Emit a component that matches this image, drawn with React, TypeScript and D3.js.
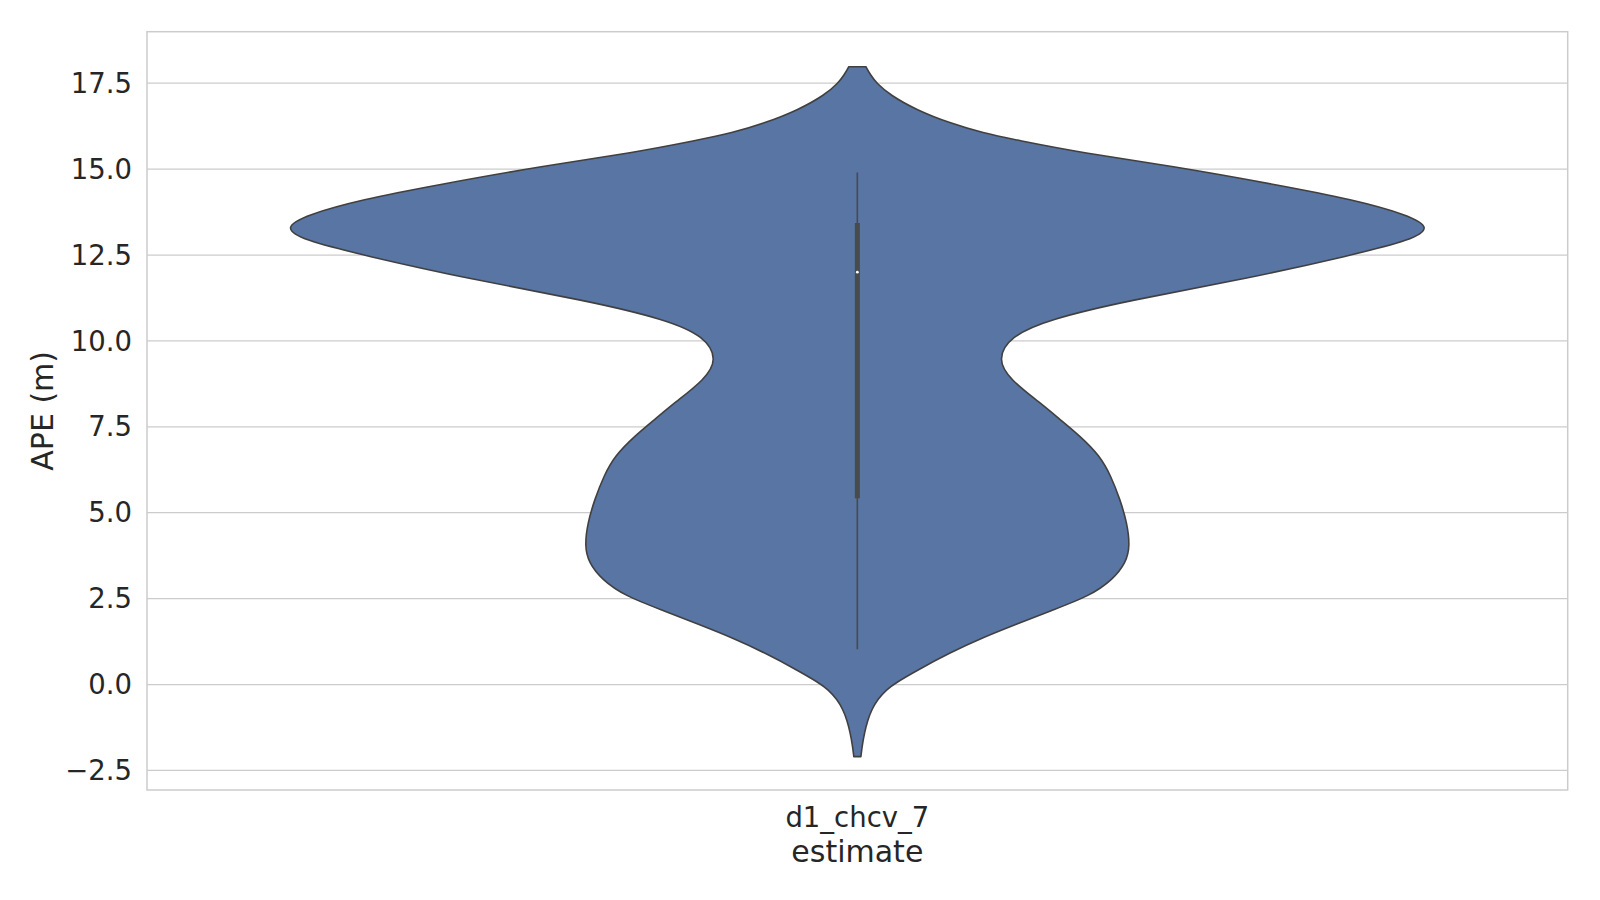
import React from "react";
import * as d3 from "d3";

// ---- data ----
const categories = ["d1_chcv_7"];
const yTicks = [-2.5, 0, 2.5, 5, 7.5, 10, 12.5, 15, 17.5];
// violin outline: value levels (top to bottom) and relative density (max = 1)
const violinY = [
  17.98, 17.75, 17.5, 17.16, 16.72, 16.34, 16.05, 15.85, 15.47, 15.1, 14.54, 14.11, 13.67,
  13.3, 12.94, 12.51, 11.78, 11.18, 10.62, 10.13, 9.46, 8.87, 8.2, 7.71, 7.23, 6.65, 6.06,
  5.39, 4.71, 4.03, 3.55, 3.06, 2.58, 2.14, 1.75, 1.37, 0.93, 0.4, 0.06, -0.15, -0.43,
  -0.72, -1.05, -1.4, -1.75, -2.1,
];
const violinDensity = [
  0.0151, 0.0228, 0.0339, 0.0573, 0.1042, 0.1627, 0.2214, 0.2794, 0.3972, 0.5501, 0.7399,
  0.8735, 0.9684, 1.01, 0.9754, 0.8735, 0.6766, 0.478, 0.3357, 0.2689, 0.246, 0.2689,
  0.3216, 0.3568, 0.3919, 0.4271, 0.4464, 0.4622, 0.4745, 0.4798, 0.4728, 0.4499, 0.4095,
  0.3392, 0.2794, 0.2214, 0.1634, 0.1037, 0.0685, 0.051, 0.036, 0.0255, 0.0179, 0.0127,
  0.0088, 0.0062,
];
// inner box: whisker low, q1, median, q3, whisker high
const boxStats = [1.03, 5.42, 12.0, 13.43, 14.9];

const W = 1600;
const H = 900;
const M = { left: 147, top: 31.7, right: 1567.7, bottom: 790 };
const FONT = "DejaVu Sans, sans-serif";
const TEXT = "#262626";

export default function App() {
  const y = d3.scaleLinear().domain([-3.07, 19.0]).range([M.bottom, M.top]);
  const x = d3.scaleBand<string>().domain(categories).range([M.left, M.right]).padding(0);
  const cx = (x(categories[0]) ?? 0) + x.bandwidth() / 2;
  const halfW = x.bandwidth() * 0.4;
  const w = d3.scaleLinear().domain([0, 1]).range([0, halfW]);

  const pts = violinY.map((v, i) => ({ v, d: violinDensity[i] }));
  const area = d3
    .area<{ v: number; d: number }>()
    .y((p) => y(p.v))
    .x0((p) => cx - w(p.d))
    .x1((p) => cx + w(p.d))
    .curve(d3.curveBasis);
  const violinPath = area(pts) as string;

  const [wl, q1, med, q3, wh] = boxStats;

  return (
    <div style={{ position: "absolute", left: 0, top: 0 }}>
      <svg width={W} height={H} style={{ display: "block", background: "#fff" }}>
        {/* grid */}
        {yTicks.map((t) => (
          <line
            key={t}
            x1={M.left}
            x2={M.right}
            y1={y(t)}
            y2={y(t)}
            stroke="#cccccc"
            strokeWidth={1.25}
          />
        ))}
        {/* violin */}
        <path d={violinPath} fill="#5875a4" stroke="#404040" strokeWidth={1.6} strokeLinejoin="round" />
        {/* inner box */}
        <line x1={cx} x2={cx} y1={y(wl)} y2={y(wh)} stroke="#4a4a4a" strokeWidth={1.6} />
        <line x1={cx} x2={cx} y1={y(q1)} y2={y(q3)} stroke="#4a4a4a" strokeWidth={5} />
        <circle cx={cx} cy={y(med)} r={1.4} fill="#ffffff" />
        {/* frame */}
        <rect
          x={M.left}
          y={M.top}
          width={M.right - M.left}
          height={M.bottom - M.top}
          fill="none"
          stroke="#cccccc"
          strokeWidth={1.5}
        />
        {/* y tick labels */}
        {yTicks.map((t) => (
          <text
            key={"l" + t}
            x={M.left - 15}
            y={y(t)}
            dy="0.35em"
            textAnchor="end"
            fontFamily={FONT}
            fontSize={27.5}
            fill={TEXT}
          >
            {d3.format(".1f")(t).replace("-", "\u2212")}
          </text>
        ))}
        {/* y axis label */}
        <text
          transform={`translate(53,${(M.top + M.bottom) / 2}) rotate(-90)`}
          textAnchor="middle"
          fontFamily={FONT}
          fontSize={30}
          fill={TEXT}
        >
          APE (m)
        </text>
        {/* x tick label */}
        {categories.map((c) => (
          <text
            key={c}
            x={cx}
            y={827}
            textAnchor="middle"
            fontFamily={FONT}
            fontSize={27.5}
            fill={TEXT}
          >
            {c}
          </text>
        ))}
        <text x={cx} y={862} textAnchor="middle" fontFamily={FONT} fontSize={30} fill={TEXT}>
          estimate
        </text>
      </svg>
    </div>
  );
}
